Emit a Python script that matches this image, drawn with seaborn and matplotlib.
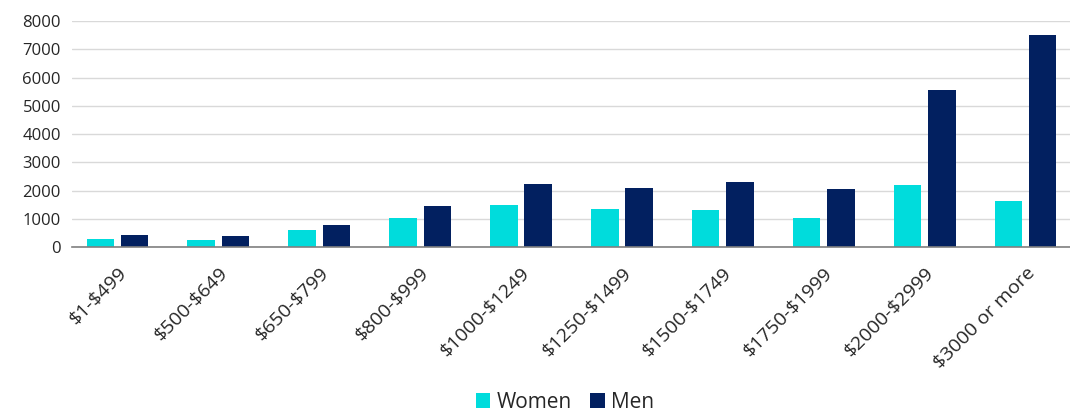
import matplotlib
matplotlib.use("Agg")
import matplotlib.pyplot as plt
import seaborn as sns
import pandas as pd

categories = ["$1-$499", "$500-$649", "$650-$799", "$800-$999", "$1000-$1249",
              "$1250-$1499", "$1500-$1749", "$1750-$1999", "$2000-$2999", "$3000 or more"]
women = [280, 260, 600, 1035, 1495, 1355, 1330, 1035, 2190, 1635]
men = [435, 400, 775, 1460, 2235, 2095, 2305, 2060, 5555, 7495]
series_names = ["Women", "Men"]
y_ticks = [0, 1000, 2000, 3000, 4000, 5000, 6000, 7000, 8000]

df = pd.DataFrame({
    "category": categories * 2,
    "value": women + men,
    "series": [series_names[0]] * len(categories) + [series_names[1]] * len(categories),
})

sns.set_theme(style="white")
plt.rcParams['font.family'] = ['Open Sans', 'DejaVu Sans']
plt.rcParams['text.parse_math'] = False
text_color = "#262626"

fig = plt.figure(figsize=(10.7, 4.12), dpi=100)
ax = fig.add_axes([72 / 1070, 164.7 / 412, (1070 - 72) / 1070, (391 - 164.7) / 412])

palette = {"Women": "#00DCDC", "Men": "#022060"}
sns.barplot(data=df, x="category", y="value", hue="series", order=categories,
            hue_order=series_names, palette=palette, width=0.68, gap=0.2,
            saturation=1, ax=ax, legend=True, edgecolor="none")

ax.set_ylim(0, 8000)
ax.set_xlim(-0.45, 9.44)
ax.set_yticks(y_ticks)
ax.yaxis.grid(True, color="#D9D9D9", linewidth=1)
ax.set_axisbelow(True)
for s in ["top", "right", "left"]:
    ax.spines[s].set_visible(False)
ax.spines["bottom"].set_color("#808080")
ax.spines["bottom"].set_linewidth(1.2)
ax.set_xlabel("")
ax.set_ylabel("")
ax.tick_params(axis="y", length=0, labelsize=12, colors=text_color, pad=8)
ax.tick_params(axis="x", length=0, labelsize=14, colors=text_color, pad=12)
ax.set_xticks(range(len(categories)))
ax.set_xticklabels(categories, rotation=45, ha="right", rotation_mode="anchor")

handles, labels = ax.get_legend_handles_labels()
ax.legend(handles, labels, loc="center", bbox_to_anchor=(565 / 1070, 10 / 412),
          bbox_transform=fig.transFigure, ncol=2, frameon=False, fontsize=15,
          handlelength=0.7, handleheight=0.7, handletextpad=0.3, columnspacing=0.9,
          labelcolor=text_color)

fig.savefig("out.png", dpi=100)
